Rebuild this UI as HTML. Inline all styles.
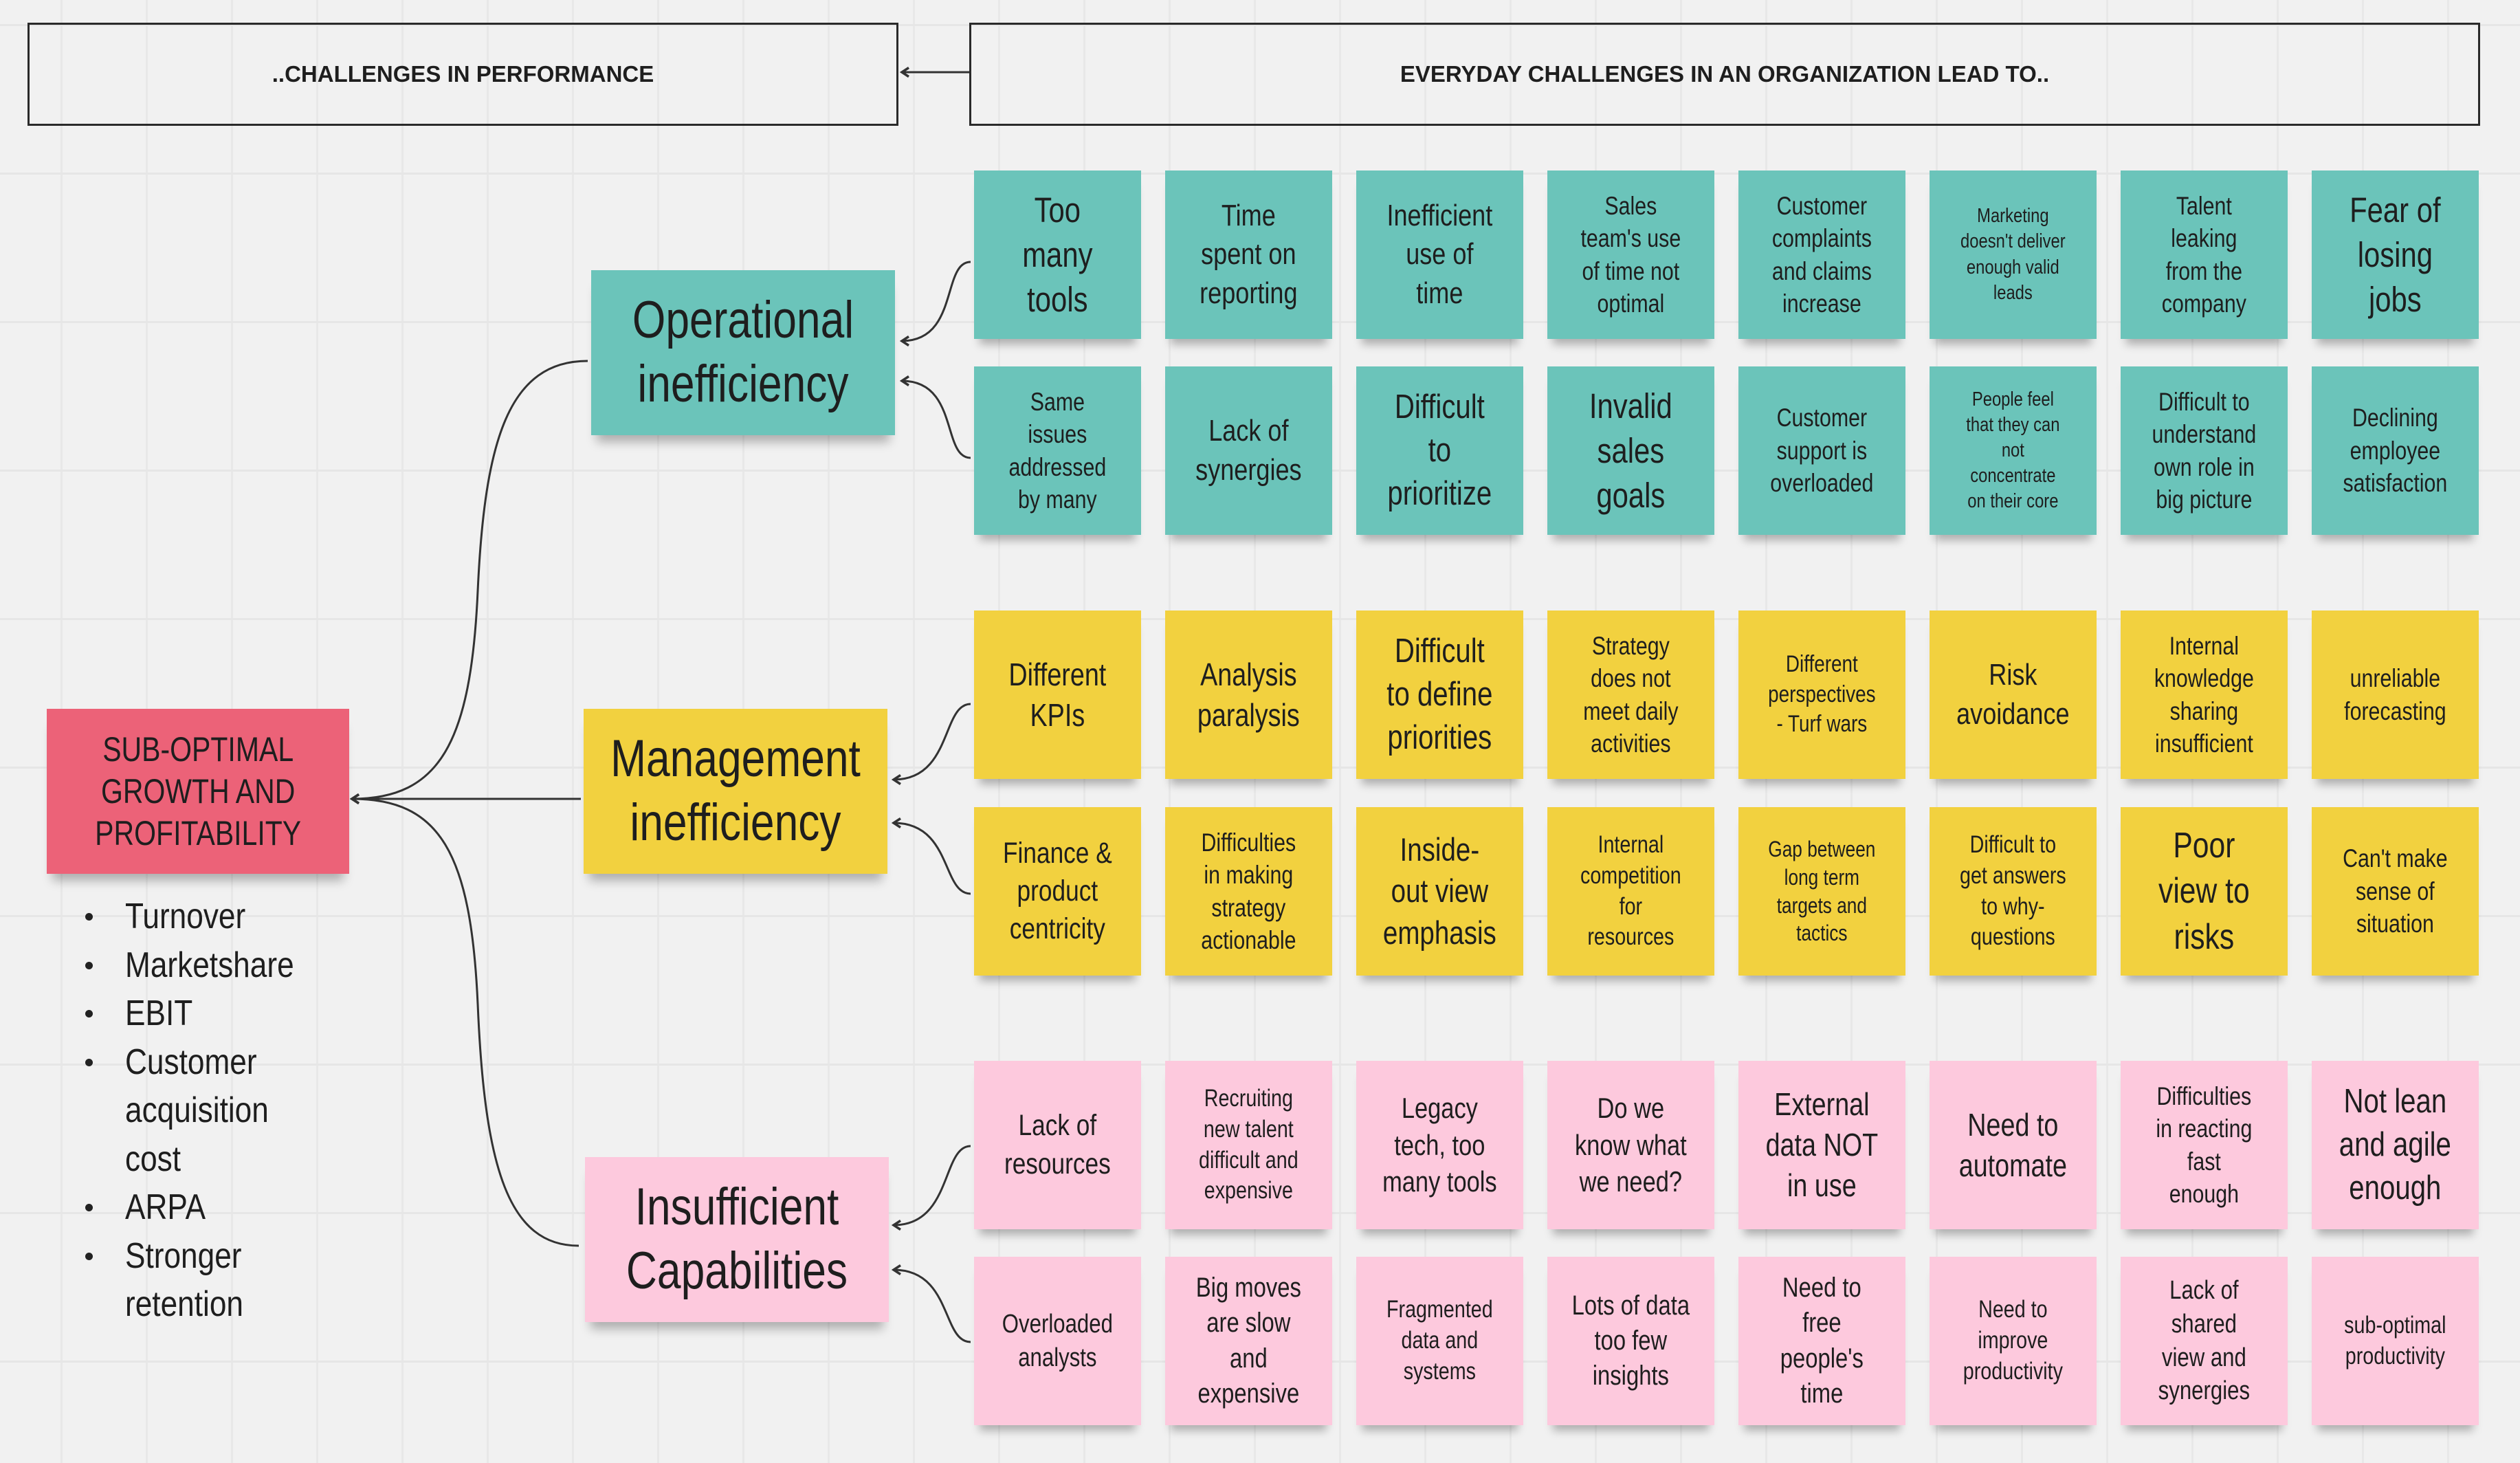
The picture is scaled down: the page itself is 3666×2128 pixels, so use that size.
<!DOCTYPE html>
<html><head><meta charset="utf-8">
<style>
*{margin:0;padding:0;box-sizing:border-box}
body{width:3666px;height:2128px;position:relative;overflow:hidden;background-color:#f1f1f1;
background-image:linear-gradient(#e6e6e6 3px,transparent 3px),linear-gradient(90deg,#e8e8e8 3px,transparent 3px);
background-size:124px 216px;background-position:0 35px,88px 0;
font-family:"Liberation Sans",sans-serif;color:#1e1e1e}
.s{position:absolute;width:243px;height:245px;box-shadow:0 16px 12px -8px rgba(0,0,0,.28)}
.s .i,.c .i{position:absolute;left:0;top:0;height:100%;transform:scaleX(.82);transform-origin:0 0;display:flex;align-items:center;justify-content:center;text-align:center;line-height:1.28}
.s .i{width:296px;padding:0 6px}
.t{background:#6bc4ba}.y{background:#f2d13f}.p{background:#fdc9dd}.r{background:#ec6278}
.c{position:absolute;width:442px;height:240px;box-shadow:0 18px 14px -8px rgba(0,0,0,.28)}
.c .i{width:539px;font-size:76px;line-height:1.22}
.box{position:absolute;border:3px solid #2a2a2a;display:flex;align-items:center;justify-content:center;font-weight:bold;font-size:33px}
.b{position:absolute;font-size:52px;transform:scaleX(.85);transform-origin:0 0;line-height:70px;white-space:nowrap}
.d{position:absolute;left:124px;width:11px;height:11px;border-radius:50%;background:#222}
</style></head><body>
<div class="box" style="left:40px;top:33px;width:1267px;height:150px">..CHALLENGES IN PERFORMANCE</div>
<div class="box" style="left:1410px;top:33px;width:2198px;height:150px">EVERYDAY CHALLENGES IN AN ORGANIZATION LEAD TO..</div>

<svg style="position:absolute;left:0;top:0" width="3666" height="2128">
<defs><marker id="a" markerWidth="16" markerHeight="16" refX="13" refY="8" orient="auto" markerUnits="userSpaceOnUse" viewBox="0 0 16 16"><path d="M3,1.5 L13,8 L3,14.5" fill="none" stroke="#333" stroke-width="3.5"/></marker></defs>
<g fill="none" stroke="#333" stroke-width="3" marker-end="url(#a)">
<path d="M1410,105 L1312,105"/>
<path d="M855,525 C740,525 705,640 695,860 C685,1080 640,1162 512,1162"/>
<path d="M845,1162 L512,1162"/>
<path d="M842,1812 C740,1812 705,1700 695,1460 C685,1240 640,1162 512,1162"/>
<path d="M1412,381 C1370,381 1395,496 1312,496"/>
<path d="M1412,666 C1370,666 1395,554 1312,554"/>
<path d="M1412,1024 C1370,1024 1385,1134 1300,1134"/>
<path d="M1412,1300 C1370,1300 1385,1197 1300,1197"/>
<path d="M1412,1667 C1370,1667 1385,1782 1300,1782"/>
<path d="M1412,1952 C1370,1952 1385,1847 1300,1847"/>
</g></svg>

<div class="c r" style="left:68px;top:1031px;width:440px"><div class="i" style="font-size:50px;width:537px">SUB-OPTIMAL<br>GROWTH AND<br>PROFITABILITY</div></div>
<div class="c t" style="left:860px;top:393px"><div class="i">Operational<br>inefficiency</div></div>
<div class="c y" style="left:849px;top:1031px"><div class="i">Management<br>inefficiency</div></div>
<div class="c p" style="left:851px;top:1683px"><div class="i">Insufficient<br>Capabilities</div></div>

<div class="d" style="top:1328px"></div><div class="b" style="left:182px;top:1298px">Turnover</div>
<div class="d" style="top:1399px"></div><div class="b" style="left:182px;top:1369px">Marketshare</div>
<div class="d" style="top:1469px"></div><div class="b" style="left:182px;top:1439px">EBIT</div>
<div class="d" style="top:1540px"></div><div class="b" style="left:182px;top:1510px">Customer</div>
<div class="b" style="left:182px;top:1580px">acquisition</div>
<div class="b" style="left:182px;top:1651px">cost</div>
<div class="d" style="top:1751px"></div><div class="b" style="left:182px;top:1721px">ARPA</div>
<div class="d" style="top:1822px"></div><div class="b" style="left:182px;top:1792px">Stronger</div>
<div class="b" style="left:182px;top:1862px">retention</div>

<!-- row 1 -->
<div class="s t" style="left:1417px;top:248px"><div class="i" style="font-size:51px">Too<br>many<br>tools</div></div>
<div class="s t" style="left:1695px;top:248px"><div class="i" style="font-size:44px">Time<br>spent on<br>reporting</div></div>
<div class="s t" style="left:1973px;top:248px"><div class="i" style="font-size:44px">Inefficient<br>use of<br>time</div></div>
<div class="s t" style="left:2251px;top:248px"><div class="i" style="font-size:37px">Sales<br>team's use<br>of time not<br>optimal</div></div>
<div class="s t" style="left:2529px;top:248px"><div class="i" style="font-size:37px">Customer<br>complaints<br>and claims<br>increase</div></div>
<div class="s t" style="left:2807px;top:248px"><div class="i" style="font-size:29px">Marketing<br>doesn't deliver<br>enough valid<br>leads</div></div>
<div class="s t" style="left:3085px;top:248px"><div class="i" style="font-size:37px">Talent<br>leaking<br>from the<br>company</div></div>
<div class="s t" style="left:3363px;top:248px"><div class="i" style="font-size:51px">Fear of<br>losing<br>jobs</div></div>
<!-- row 2 -->
<div class="s t" style="left:1417px;top:533px"><div class="i" style="font-size:37px">Same<br>issues<br>addressed<br>by many</div></div>
<div class="s t" style="left:1695px;top:533px"><div class="i" style="font-size:44px">Lack of<br>synergies</div></div>
<div class="s t" style="left:1973px;top:533px"><div class="i" style="font-size:49px">Difficult<br>to<br>prioritize</div></div>
<div class="s t" style="left:2251px;top:533px"><div class="i" style="font-size:51px">Invalid<br>sales<br>goals</div></div>
<div class="s t" style="left:2529px;top:533px"><div class="i" style="font-size:37px">Customer<br>support is<br>overloaded</div></div>
<div class="s t" style="left:2807px;top:533px"><div class="i" style="font-size:29px">People feel<br>that they can<br>not<br>concentrate<br>on their core</div></div>
<div class="s t" style="left:3085px;top:533px"><div class="i" style="font-size:37px">Difficult to<br>understand<br>own role in<br>big picture</div></div>
<div class="s t" style="left:3363px;top:533px"><div class="i" style="font-size:37px">Declining<br>employee<br>satisfaction</div></div>
<!-- row 3 -->
<div class="s y" style="left:1417px;top:888px"><div class="i" style="font-size:46px">Different<br>KPIs</div></div>
<div class="s y" style="left:1695px;top:888px"><div class="i" style="font-size:46px">Analysis<br>paralysis</div></div>
<div class="s y" style="left:1973px;top:888px"><div class="i" style="font-size:49px">Difficult<br>to define<br>priorities</div></div>
<div class="s y" style="left:2251px;top:888px"><div class="i" style="font-size:37px">Strategy<br>does not<br>meet daily<br>activities</div></div>
<div class="s y" style="left:2529px;top:888px"><div class="i" style="font-size:34px">Different<br>perspectives<br>- Turf wars</div></div>
<div class="s y" style="left:2807px;top:888px"><div class="i" style="font-size:44px">Risk<br>avoidance</div></div>
<div class="s y" style="left:3085px;top:888px"><div class="i" style="font-size:37px">Internal<br>knowledge<br>sharing<br>insufficient</div></div>
<div class="s y" style="left:3363px;top:888px"><div class="i" style="font-size:37px">unreliable<br>forecasting</div></div>
<!-- row 4 -->
<div class="s y" style="left:1417px;top:1174px"><div class="i" style="font-size:43px">Finance &amp;<br>product<br>centricity</div></div>
<div class="s y" style="left:1695px;top:1174px"><div class="i" style="font-size:37px">Difficulties<br>in making<br>strategy<br>actionable</div></div>
<div class="s y" style="left:1973px;top:1174px"><div class="i" style="font-size:47px">Inside-<br>out view<br>emphasis</div></div>
<div class="s y" style="left:2251px;top:1174px"><div class="i" style="font-size:35px">Internal<br>competition<br>for<br>resources</div></div>
<div class="s y" style="left:2529px;top:1174px"><div class="i" style="font-size:32px">Gap between<br>long term<br>targets and<br>tactics</div></div>
<div class="s y" style="left:2807px;top:1174px"><div class="i" style="font-size:35px">Difficult to<br>get answers<br>to why-<br>questions</div></div>
<div class="s y" style="left:3085px;top:1174px"><div class="i" style="font-size:52px">Poor<br>view to<br>risks</div></div>
<div class="s y" style="left:3363px;top:1174px"><div class="i" style="font-size:37px">Can't make<br>sense of<br>situation</div></div>
<!-- row 5 -->
<div class="s p" style="left:1417px;top:1543px"><div class="i" style="font-size:43px">Lack of<br>resources</div></div>
<div class="s p" style="left:1695px;top:1543px"><div class="i" style="font-size:35px">Recruiting<br>new talent<br>difficult and<br>expensive</div></div>
<div class="s p" style="left:1973px;top:1543px"><div class="i" style="font-size:42px">Legacy<br>tech, too<br>many tools</div></div>
<div class="s p" style="left:2251px;top:1543px"><div class="i" style="font-size:42px">Do we<br>know what<br>we need?</div></div>
<div class="s p" style="left:2529px;top:1543px"><div class="i" style="font-size:46px">External<br>data NOT<br>in use</div></div>
<div class="s p" style="left:2807px;top:1543px"><div class="i" style="font-size:46px">Need to<br>automate</div></div>
<div class="s p" style="left:3085px;top:1543px"><div class="i" style="font-size:37px">Difficulties<br>in reacting<br>fast<br>enough</div></div>
<div class="s p" style="left:3363px;top:1543px"><div class="i" style="font-size:49px">Not lean<br>and agile<br>enough</div></div>
<!-- row 6 -->
<div class="s p" style="left:1417px;top:1828px"><div class="i" style="font-size:38px">Overloaded<br>analysts</div></div>
<div class="s p" style="left:1695px;top:1828px"><div class="i" style="font-size:40px">Big moves<br>are slow<br>and<br>expensive</div></div>
<div class="s p" style="left:1973px;top:1828px"><div class="i" style="font-size:35px">Fragmented<br>data and<br>systems</div></div>
<div class="s p" style="left:2251px;top:1828px"><div class="i" style="font-size:40px">Lots of data<br>too few<br>insights</div></div>
<div class="s p" style="left:2529px;top:1828px"><div class="i" style="font-size:40px">Need to<br>free<br>people's<br>time</div></div>
<div class="s p" style="left:2807px;top:1828px"><div class="i" style="font-size:35px">Need to<br>improve<br>productivity</div></div>
<div class="s p" style="left:3085px;top:1828px"><div class="i" style="font-size:38px">Lack of<br>shared<br>view and<br>synergies</div></div>
<div class="s p" style="left:3363px;top:1828px"><div class="i" style="font-size:35px">sub-optimal<br>productivity</div></div>
</body></html>
